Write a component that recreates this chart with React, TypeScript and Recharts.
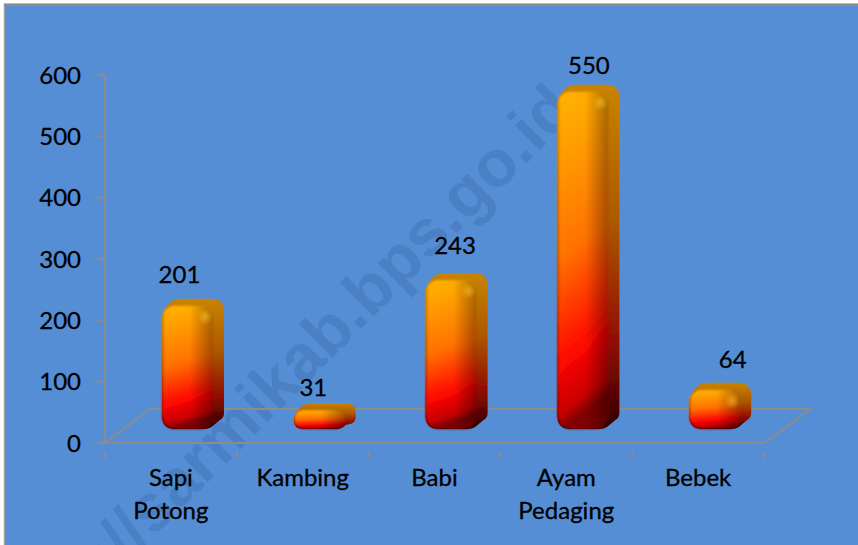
import { Bar, BarChart, LabelList, XAxis, YAxis } from "recharts";

const categories = ["Sapi Potong", "Kambing", "Babi", "Ayam Pedaging", "Bebek"];
const populasi = [201, 31, 243, 550, 64];
const yTicks = [0, 100, 200, 300, 400, 500, 600];

// label placement in the original is a bit uneven, because of the 3D projection
const labelDx = [-8, -6, 4, 6, 18];
const labelLift = [32, 23, 35, 27, 31];

const data = categories.map((name, i) => ({ name, value: populasi[i] }));

const W = 858;
const H = 545;
const LEFT = 105;
const RIGHT = 94;
const TOP = 75;
const AXIS_H = 102;
const BAND = (W - LEFT - RIGHT) / categories.length;
const FONT = "Lato, 'Open Sans', sans-serif";
const GREY = "#8C8C8C";

const SHIFT_X = 17;
const SHIFT_Y = 14;
const DEPTH_X = 11;
const DEPTH_Y = 7;

function Bar3D(props: any) {
  const { x, y, width, height } = props;
  const fx = x + SHIFT_X;
  const fy = y - SHIFT_Y;
  const bottom = fy + height;
  const r = Math.min(13, height / 2);
  const right = fx + width;
  const outline = [
    `M ${fx} ${bottom - r}`,
    `L ${fx} ${fy + r}`,
    `Q ${fx} ${fy + r * 0.3} ${fx + DEPTH_X - 2} ${fy - DEPTH_Y + 3}`,
    `Q ${fx + DEPTH_X + 2} ${fy - DEPTH_Y} ${fx + DEPTH_X + 8} ${fy - DEPTH_Y}`,
    `L ${right + DEPTH_X - r} ${fy - DEPTH_Y}`,
    `Q ${right + DEPTH_X} ${fy - DEPTH_Y} ${right + DEPTH_X} ${fy - DEPTH_Y + r}`,
    `L ${right + DEPTH_X} ${bottom - r - DEPTH_Y + 4}`,
    `Q ${right + DEPTH_X} ${bottom - r + 2} ${right + DEPTH_X - 4} ${bottom - r + 4}`,
    `L ${right + 1} ${bottom - 4}`,
    `Q ${right - 3} ${bottom} ${right - 9} ${bottom}`,
    `L ${fx + r} ${bottom}`,
    `Q ${fx} ${bottom} ${fx} ${bottom - r}`,
    "Z",
  ].join(" ");

  return (
    <g>
      <path d={outline} fill="url(#sideFill)" filter="url(#edge)" />
      <g filter="url(#soft)">
        <rect x={fx} y={fy} width={width} height={height} rx={r} ry={r} fill="url(#frontFill)" />
        <rect x={fx} y={fy} width={width} height={height} rx={r} ry={r} fill="url(#frontShade)" />
      </g>
      {height > 30 && <circle cx={right - 8} cy={fy + 11} r={8} fill="url(#glint)" />}
    </g>
  );
}

function CategoryTick(props: any) {
  const { x, y, payload, index } = props;
  const words = String(payload.value).split(" ");
  const left = x - BAND / 2;
  return (
    <g>
      <line x1={left} x2={left} y1={y} y2={y + 7} stroke={GREY} strokeWidth={2} />
      {index === categories.length - 1 && (
        <line x1={x + BAND / 2} x2={x + BAND / 2} y1={y} y2={y + 7} stroke={GREY} strokeWidth={2} />
      )}
      <text
        x={x}
        y={y + 43}
        textAnchor="middle"
        fontFamily={FONT}
        fontSize={24}
        fill="#000"
        stroke="#000"
        strokeWidth={0.3}
      >
        {words.map((w, i) => (
          <tspan key={w} x={x} dy={i === 0 ? -8 : 33}>
            {w}
          </tspan>
        ))}
      </text>
    </g>
  );
}

function ValueLabel(props: any) {
  const { x, y, width, value, index } = props;
  return (
    <text
      x={x + width / 2 + SHIFT_X + labelDx[index]}
      y={y - SHIFT_Y - labelLift[index] + 9}
      textAnchor="middle"
      fontFamily={FONT}
      fontSize={24}
      fill="#000"
      stroke="#000"
      strokeWidth={0.3}
    >
      {value}
    </text>
  );
}

export default function App() {
  return (
    <div style={{ position: "absolute", left: 0, top: 0, width: W, height: H, background: "#fff", overflow: "hidden" }}>
      <svg width={W} height={H} style={{ position: "absolute", left: 0, top: 0 }}>
        <defs>
          <linearGradient id="frontFill" x1="0" y1="0" x2="0.12" y2="1">
            <stop offset="0" stopColor="#FFB400" />
            <stop offset="0.2" stopColor="#FF9C00" />
            <stop offset="0.5" stopColor="#FF7000" />
            <stop offset="0.8" stopColor="#FF0800" />
            <stop offset="0.95" stopColor="#C80000" />
            <stop offset="1" stopColor="#800000" />
          </linearGradient>
          <linearGradient id="frontShade" x1="0" y1="0" x2="1" y2="0">
            <stop offset="0" stopColor="#5A2000" stopOpacity="0.3" />
            <stop offset="0.06" stopColor="#5A2000" stopOpacity="0" />
            <stop offset="0.55" stopColor="#000" stopOpacity="0" />
            <stop offset="1" stopColor="#000" stopOpacity="0.35" />
          </linearGradient>
          <linearGradient id="sideFill" x1="0" y1="0" x2="0" y2="1">
            <stop offset="0" stopColor="#C98400" />
            <stop offset="0.4" stopColor="#AC5800" />
            <stop offset="0.75" stopColor="#900C00" />
            <stop offset="1" stopColor="#300000" />
          </linearGradient>
          <radialGradient id="glint">
            <stop offset="0" stopColor="#FFC830" stopOpacity="0.55" />
            <stop offset="1" stopColor="#FFC830" stopOpacity="0" />
          </radialGradient>
          <filter id="soft" x="-10%" y="-10%" width="120%" height="120%">
            <feGaussianBlur stdDeviation="1" />
          </filter>
          <filter id="edge" x="-10%" y="-10%" width="120%" height="120%">
            <feGaussianBlur stdDeviation="0.4" />
          </filter>
        </defs>
        <rect x={4.5} y={4.5} width={W} height={H} fill="#558ED5" stroke="#A0A0A0" strokeWidth={1.5} />
        <line x1={4} x2={W} y1={4.5} y2={4.5} stroke={GREY} strokeWidth={2} />
        <text
          transform="translate(578 112) rotate(-45)"
          textAnchor="end"
          fontFamily="'Liberation Sans', Arial, sans-serif"
          fontWeight="bold"
          fontSize={66}
          fill="#4B80C4"
        >
          ://sarmikab.bps.go.id
        </text>
        <path d="M 105 443 L 150 409 L 810 409 L 765 443" fill="none" stroke={GREY} strokeWidth={2} />
      </svg>
      <div style={{ position: "absolute", left: 0, top: 0 }}>
        <BarChart
          width={W}
          height={H}
          data={data}
          margin={{ top: TOP, right: RIGHT, bottom: 0, left: 0 }}
          barSize={51}
        >
          <XAxis
            dataKey="name"
            height={AXIS_H}
            interval={0}
            tickLine={false}
            axisLine={{ stroke: GREY, strokeWidth: 2 }}
            tick={<CategoryTick />}
          />
          <YAxis
            width={LEFT}
            domain={[0, 600]}
            ticks={yTicks}
            interval={0}
            tickSize={7}
            tickMargin={17}
            axisLine={{ stroke: GREY, strokeWidth: 2 }}
            tickLine={{ stroke: GREY, strokeWidth: 2 }}
            tick={{ fontFamily: FONT, fontSize: 24, fill: "#000", stroke: "#000", strokeWidth: 0.3 }}
          />
          <Bar dataKey="value" shape={<Bar3D />} isAnimationActive={false}>
            <LabelList dataKey="value" content={<ValueLabel />} />
          </Bar>
        </BarChart>
      </div>
    </div>
  );
}
